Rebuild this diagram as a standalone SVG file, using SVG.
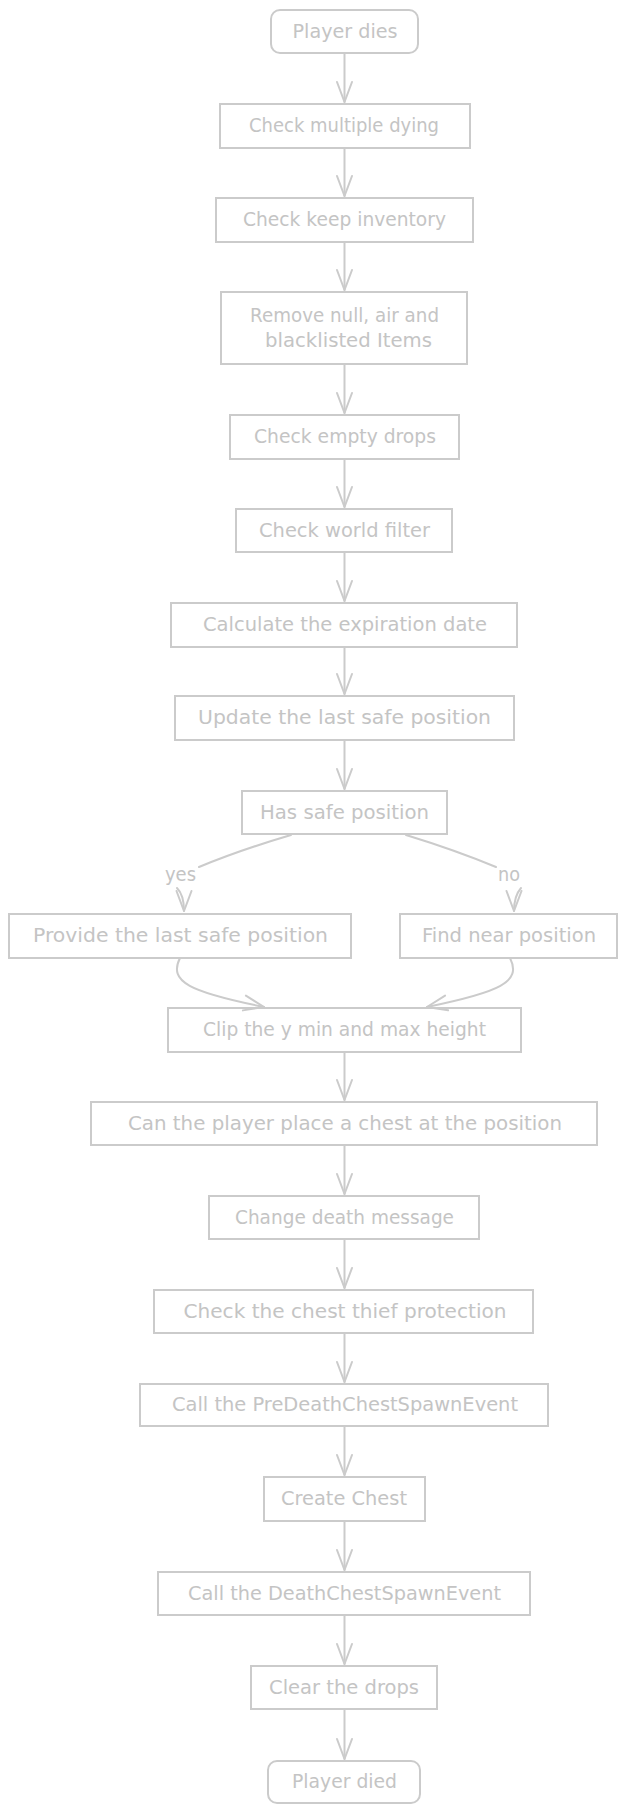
<svg xmlns="http://www.w3.org/2000/svg" width="627" height="1814" viewBox="0 0 627 1814">
<defs>
<style>
.n rect{fill:none;stroke:#cbcbcb;stroke-width:2}
.n text,.lbl{font-family:"DejaVu Sans","Liberation Sans",sans-serif;font-size:19px;fill:#c4c4c4;text-anchor:middle}
.e path{fill:none;stroke:#cbcbcb;stroke-width:2;stroke-linecap:round}
.e .a{marker-end:url(#arr)}
</style>
<marker id="arr" markerUnits="userSpaceOnUse" orient="auto" refX="0" refY="0" markerWidth="30" markerHeight="30" overflow="visible">
<path d="M-20,-7.5 L0,0 L-20,7.5" fill="none" stroke="#cbcbcb" stroke-width="2" stroke-linecap="round" stroke-linejoin="round"/>
</marker>
</defs>
<rect width="627" height="1814" fill="#ffffff"/>
<g id="edges" class="e">
<path class="a" d="M344.5,53 L344.5,102"/>
<path class="a" d="M344.5,148 L344.5,196"/>
<path class="a" d="M344.5,242 L344.5,290"/>
<path class="a" d="M344.5,364 L344.5,413"/>
<path class="a" d="M344.5,459 L344.5,507"/>
<path class="a" d="M344.5,552 L344.5,601"/>
<path class="a" d="M344.5,647 L344.5,694"/>
<path class="a" d="M344.5,740 L344.5,789"/>
<path d="M291,835 Q240,850 199,867"/>
<path class="a" d="M177,888 Q184,895 184,911"/>
<path d="M406,835 Q455,850 496,867"/>
<path class="a" d="M521,888 Q514,896 514,911"/>
<path class="a" d="M180,958 C168,982 190,992 264,1007"/>
<path class="a" d="M510,958 C522,982 500,992 427,1007"/>
<path class="a" d="M344.5,1052 L344.5,1100"/>
<path class="a" d="M344.5,1145 L344.5,1194"/>
<path class="a" d="M344.5,1239 L344.5,1288"/>
<path class="a" d="M344.5,1333 L344.5,1382"/>
<path class="a" d="M344.5,1426 L344.5,1475"/>
<path class="a" d="M344.5,1521 L344.5,1570"/>
<path class="a" d="M344.5,1615 L344.5,1664"/>
<path class="a" d="M344.5,1709 L344.5,1759"/>
<text class="lbl" x="180.5" y="881" textLength="31" lengthAdjust="spacingAndGlyphs">yes</text>
<text class="lbl" x="509" y="881" textLength="22" lengthAdjust="spacingAndGlyphs">no</text>
</g>
<g id="n1" class="n"><rect x="271" y="10" width="147" height="43" rx="9"/><text x="345" y="38" textLength="105" lengthAdjust="spacingAndGlyphs">Player dies</text></g>
<g id="n2" class="n"><rect x="220" y="104" width="250" height="44"/><text x="344" y="132" textLength="190" lengthAdjust="spacingAndGlyphs">Check multiple dying</text></g>
<g id="n3" class="n"><rect x="216" y="198" width="257" height="44"/><text x="344.5" y="226" textLength="203" lengthAdjust="spacingAndGlyphs">Check keep inventory</text></g>
<g id="n4" class="n"><rect x="221" y="292" width="246" height="72"/><text x="344.5" y="322" textLength="189" lengthAdjust="spacingAndGlyphs">Remove null, air and</text><text x="348.5" y="347" textLength="167" lengthAdjust="spacingAndGlyphs">blacklisted Items</text></g>
<g id="n5" class="n"><rect x="230" y="415" width="229" height="44"/><text x="345" y="443" textLength="182" lengthAdjust="spacingAndGlyphs">Check empty drops</text></g>
<g id="n6" class="n"><rect x="236" y="509" width="216" height="43"/><text x="344.5" y="537" textLength="171" lengthAdjust="spacingAndGlyphs">Check world filter</text></g>
<g id="n7" class="n"><rect x="171" y="603" width="346" height="44"/><text x="345" y="631" textLength="284" lengthAdjust="spacingAndGlyphs">Calculate the expiration date</text></g>
<g id="n8" class="n"><rect x="175" y="696" width="339" height="44"/><text x="344.5" y="724" textLength="293" lengthAdjust="spacingAndGlyphs">Update the last safe position</text></g>
<g id="n9" class="n"><rect x="242" y="791" width="205" height="43"/><text x="344.5" y="819" textLength="169" lengthAdjust="spacingAndGlyphs">Has safe position</text></g>
<g id="n10" class="n"><rect x="9" y="914" width="342" height="44"/><text x="180.5" y="942" textLength="295" lengthAdjust="spacingAndGlyphs">Provide the last safe position</text></g>
<g id="n11" class="n"><rect x="400" y="914" width="217" height="44"/><text x="509" y="942" textLength="174" lengthAdjust="spacingAndGlyphs">Find near position</text></g>
<g id="n12" class="n"><rect x="168" y="1008" width="353" height="44"/><text x="344.5" y="1036" textLength="283" lengthAdjust="spacingAndGlyphs">Clip the y min and max height</text></g>
<g id="n13" class="n"><rect x="91" y="1102" width="506" height="43"/><text x="345" y="1130" textLength="434" lengthAdjust="spacingAndGlyphs">Can the player place a chest at the position</text></g>
<g id="n14" class="n"><rect x="209" y="1196" width="270" height="43"/><text x="344.5" y="1224" textLength="219" lengthAdjust="spacingAndGlyphs">Change death message</text></g>
<g id="n15" class="n"><rect x="154" y="1290" width="379" height="43"/><text x="345" y="1318" textLength="323" lengthAdjust="spacingAndGlyphs">Check the chest thief protection</text></g>
<g id="n16" class="n"><rect x="140" y="1384" width="408" height="42"/><text x="345" y="1411" textLength="346" lengthAdjust="spacingAndGlyphs">Call the PreDeathChestSpawnEvent</text></g>
<g id="n17" class="n"><rect x="264" y="1477" width="161" height="44"/><text x="344" y="1505" textLength="126" lengthAdjust="spacingAndGlyphs">Create Chest</text></g>
<g id="n18" class="n"><rect x="158" y="1572" width="372" height="43"/><text x="344.5" y="1600" textLength="313" lengthAdjust="spacingAndGlyphs">Call the DeathChestSpawnEvent</text></g>
<g id="n19" class="n"><rect x="251" y="1666" width="186" height="43"/><text x="344" y="1694" textLength="150" lengthAdjust="spacingAndGlyphs">Clear the drops</text></g>
<g id="n20" class="n"><rect x="268" y="1761" width="152" height="42" rx="9"/><text x="344.5" y="1788" textLength="105" lengthAdjust="spacingAndGlyphs">Player died</text></g>
</svg>
